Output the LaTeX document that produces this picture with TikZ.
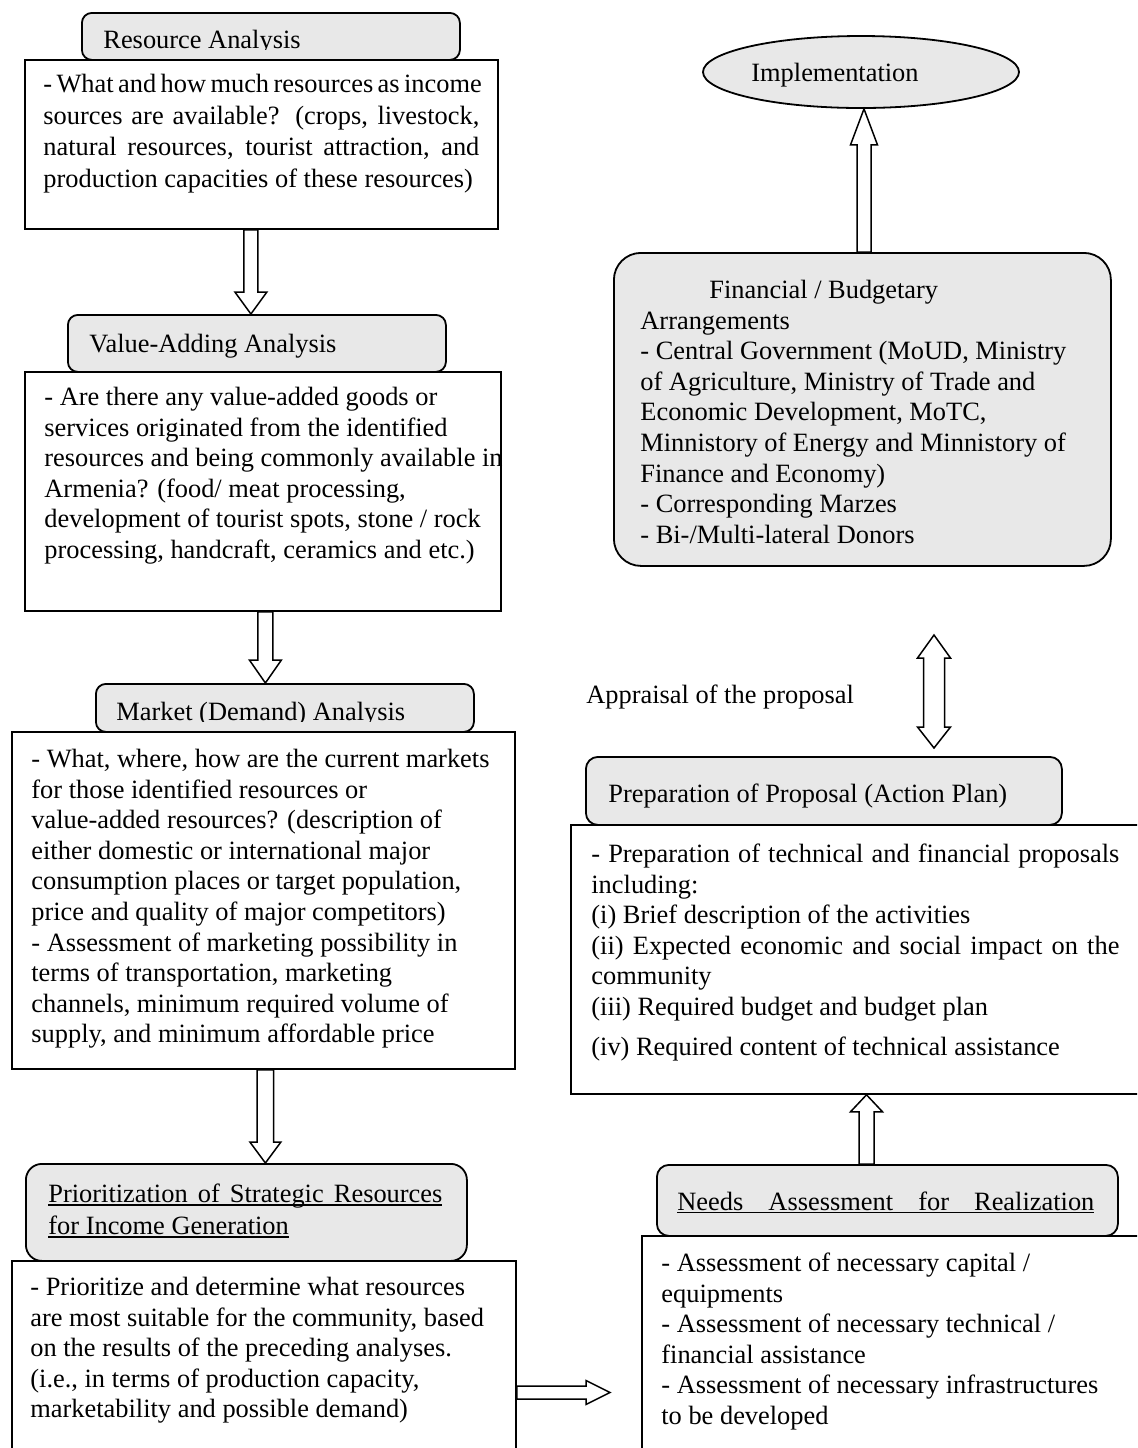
\documentclass[tikz,border=0pt]{standalone}
\usepackage{fontspec}
\setmainfont{Liberation Serif}
\usetikzlibrary{calc,shapes.geometric}
\definecolor{boxgray}{HTML}{E8E8E8}
\newcommand\bodyfont{\fontsize{13.2}{15.3}\selectfont}
\newcommand\widefont{\fontsize{13.2}{15.8}\selectfont}
\newsavebox\ulbox
\newcommand\wordul[1]{\sbox\ulbox{#1}\rlap{\rule[-1.7pt]{\wd\ulbox}{0.7pt}}\usebox\ulbox}
% outlined block arrow: start, tip, shaft half width, head half width, head length
\newcommand\blockarrow[5]{%
  \coordinate (ba-s) at (#1);
  \coordinate (ba-t) at (#2);
  \coordinate (ba-h) at ($(ba-t)!#5!(ba-s)$);
  \draw[barrowstyle] ($(ba-s)!#3!90:(ba-t)$) -- ($(ba-h)!#3!90:(ba-t)$)
    -- ($(ba-h)!#4!90:(ba-t)$) -- (ba-t) -- ($(ba-h)!#4!-90:(ba-t)$)
    -- ($(ba-h)!#3!-90:(ba-t)$) -- ($(ba-s)!#3!-90:(ba-t)$) -- cycle;}
\begin{document}
\begin{tikzpicture}[x=0.5pt,y=-0.5pt,
  hdr/.style={draw, fill=boxgray, line width=0.9pt, rounded corners=5pt, anchor=north west, inner sep=0pt},
  bodybox/.style={draw, fill=white, line width=0.9pt, anchor=north west, inner sep=0pt},
  txt/.style={anchor=north west, inner sep=0pt, align=left, font=\bodyfont},
  lbl/.style={anchor=base west, inner sep=0pt, font=\bodyfont},
  barrowstyle/.style={draw, fill=white, line width=0.75pt, line join=miter}]
\useasboundingbox (0,0) rectangle (1137,1448);
\clip (0,0) rectangle (1137,1448);

% ---- header boxes ----
\node[hdr, minimum width=189pt, minimum height=23.5pt] (reshead) at (81,12) {};
\node[hdr, minimum width=189pt, minimum height=28.5pt] (valhead) at (67,314) {};
\node[hdr, minimum width=189pt, minimum height=24pt] (markhead) at (95,683) {};
\node[hdr, minimum width=220.5pt, minimum height=48.5pt, rounded corners=8pt] (priohead) at (25,1163) {};
\node[hdr, minimum width=230.5pt, minimum height=35.5pt, rounded corners=6pt] (needshead) at (656,1164) {};
\node[hdr, minimum width=238pt, minimum height=34pt, rounded corners=6pt] (prophead) at (585,756) {};
\node[hdr, minimum width=248.5pt, minimum height=156.5pt, rounded corners=13.5pt] (finbox) at (613,252) {};
\node[draw, fill=boxgray, line width=0.9pt, ellipse, inner sep=0pt,
      minimum width=158pt, minimum height=36pt] (impl) at (861,72) {};

% ---- body boxes ----
\node[bodybox, minimum width=236.5pt, minimum height=84.5pt] (resbody) at (24,59) {};
\node[bodybox, minimum width=238pt, minimum height=119.5pt] (valbody) at (24,371) {};
\node[bodybox, minimum width=251.5pt, minimum height=168.5pt] (markbody) at (11,731) {};
\node[bodybox, minimum width=252pt, minimum height=105pt] (priobody) at (11,1260) {};
\node[bodybox, minimum width=254.5pt, minimum height=117.5pt] (needsbody) at (641,1235) {};
\node[bodybox, minimum width=290pt, minimum height=134.5pt] (propbody) at (570,824) {};

% ---- header titles ----
\begin{scope}
  \clip (81,12) rectangle (459,49);
  \node[lbl] (restitle) at (103,48) {Resource Analysis};
\end{scope}
\node[lbl] (valtitle) at (89,352) {Value-Adding Analysis};
\begin{scope}
  \clip (95,683) rectangle (473,721);
  \node[lbl] (marktitle) at (116,720) {Market (Demand) Analysis};
\end{scope}
\node[txt] (priotitle) at (48,1180.6)
  {\strut\wordul{\makebox[197pt][s]{Prioritization of Strategic Resources}}\\[0.7pt]
   \wordul{for Income Generation}};
\node[lbl] (needstitle) at (677,1210)
  {\wordul{\makebox[208.5pt][s]{Needs Assessment for Realization}}};
\node[lbl] (proptitle) at (608,802) {Preparation of Proposal (Action Plan)};
\node[lbl] (impltitle) at (751,81) {Implementation};
\node[lbl] (appraisal) at (586,703) {Appraisal of the proposal};

% ---- body texts ----
\node[txt, font=\widefont] (restext) at (43,70)
  {\strut\makebox[218pt][s]{- What and how much resources as income}\\
   \makebox[218pt][s]{sources are available? (crops, livestock,}\\
   \makebox[218pt][s]{natural resources, tourist attraction, and}\\
   production capacities of these resources)};
\node[txt] (valtext) at (44,383.6)
  {\strut- Are there any value-added goods or\\
   services originated from the identified\\
   resources and being commonly available in\\
   Armenia? (food/ meat processing,\\
   development of tourist spots, stone / rock\\
   processing, handcraft, ceramics and etc.)};
\node[txt] (marktext) at (31,745.6)
  {\strut- What, where, how are the current markets\\
   for those identified resources or\\
   value-added resources? (description of\\
   either domestic or international major\\
   consumption places or target population,\\
   price and quality of major competitors)\\
   - Assessment of marketing possibility in\\
   terms of transportation, marketing\\
   channels, minimum required volume of\\
   supply, and minimum affordable price};
\node[txt] (priotext) at (30,1273.6)
  {\strut- Prioritize and determine what resources\\
   are most suitable for the community, based\\
   on the results of the preceding analyses.\\
   (i.e., in terms of production capacity,\\
   marketability and possible demand)};
\node[txt] (needstext) at (661,1249.6)
  {\strut- Assessment of necessary capital /\\
   equipments\\
   - Assessment of necessary technical /\\
   financial assistance\\
   - Assessment of necessary infrastructures\\
   to be developed};
\node[txt] (proptext) at (591,840.6)
  {\strut\makebox[264pt][s]{- Preparation of technical and financial proposals}\\
   including:\\
   (i) Brief description of the activities\\
   \makebox[264pt][s]{(ii) Expected economic and social impact on the}\\
   community\\
   (iii) Required budget and budget plan\\[4.7pt]
   (iv) Required content of technical assistance};
\node[txt] (fintext) at (640,276.6)
  {\strut\hspace*{34.5pt}Financial / Budgetary\\
   Arrangements\\
   - Central Government (MoUD, Ministry\\
   of Agriculture, Ministry of Trade and\\
   Economic Development, MoTC,\\
   Minnistory of Energy and Minnistory of\\
   Finance and Economy)\\
   - Corresponding Marzes\\
   - Bi-/Multi-lateral Donors};

% ---- block arrows ----
\blockarrow{$(resbody.south)+(-10.5,0)$}{$(valhead.north)+(-6,0)$}{3.5pt}{8pt}{11pt}
\blockarrow{$(valbody.south)+(2.5,0)$}{$(markhead.north)+(-19.5,0)$}{3.75pt}{8pt}{11.5pt}
\blockarrow{$(markbody.south)+(2,0)$}{$(priohead.north)+(19,0)$}{4.1pt}{7.75pt}{10.5pt}
\coordinate (a4tip) at (610,1392.5);
\blockarrow{$(priobody.north east)+(0,132.5)$}{a4tip}{3.25pt}{6pt}{12pt}
\coordinate (a5x) at (866.5,0);
\blockarrow{a5x |- needshead.north}{a5x |- propbody.south}{3.75pt}{8pt}{8.5pt}
\coordinate (a6x) at (864,0);
\blockarrow{a6x |- finbox.north}{a6x |- impl.south}{3.5pt}{6.75pt}{18pt}

% two-way arrow between the budget box and the proposal
\coordinate (dtop) at (934,635);
\coordinate (dbot) at (934,748);
\draw[barrowstyle] (dtop) -- ($(dtop)+(16.5,23)$) -- ($(dtop)+(10.5,23)$)
  -- ($(dbot)+(10.5,-21)$) -- ($(dbot)+(16.5,-21)$) -- (dbot)
  -- ($(dbot)+(-16.5,-21)$) -- ($(dbot)+(-10.5,-21)$)
  -- ($(dtop)+(-10.5,23)$) -- ($(dtop)+(-16.5,23)$) -- cycle;
\end{tikzpicture}
\end{document}
